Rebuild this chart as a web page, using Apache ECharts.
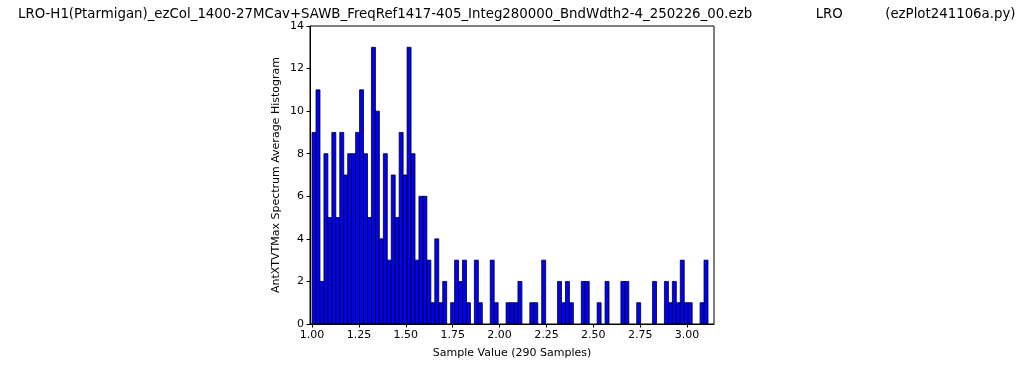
<!DOCTYPE html>
<html>
<head>
<meta charset="utf-8">
<script src="https://cdn.jsdelivr.net/npm/echarts@6/dist/echarts.min.js"></script>
<style>
  html, body { margin: 0; padding: 0; background: #fff; }
  #tb1 { width: 1024px; height: 370px; }
</style>
</head>
<body>
<div id="tb1"></div>
<script>
// histogram: 100 bins starting at binStart, each binWidth wide
var binStart = 1.0;
var binWidth = 0.02112;
var counts = [
  9, 11, 2, 8, 5, 9, 5, 9, 7, 8,
  8, 9, 11, 8, 5, 13, 10, 4, 8, 3,
  7, 5, 9, 7, 13, 8, 3, 6, 6, 3,
  1, 4, 1, 2, 0, 1, 3, 2, 3, 1,
  0, 3, 1, 0, 0, 3, 1, 0, 0, 1,
  1, 1, 2, 0, 0, 1, 1, 0, 3, 0,
  0, 0, 2, 1, 2, 1, 0, 0, 2, 2,
  0, 0, 1, 0, 2, 0, 0, 0, 2, 2,
  0, 0, 1, 0, 0, 0, 2, 0, 0, 2,
  1, 2, 1, 3, 1, 1, 0, 0, 1, 3
];
var xTicks = [1.0, 1.25, 1.5, 1.75, 2.0, 2.25, 2.5, 2.75, 3.0];
var titleText = 'LRO-H1(Ptarmigan)_ezCol_1400-27MCav+SAWB_FreqRef1417-405_Integ280000_BndWdth2-4_250226_00.ezb               LRO          (ezPlot241106a.py)';

var bins = [];
for (var i = 0; i < counts.length; i++) {
  bins.push([binStart + i * binWidth, binStart + (i + 1) * binWidth, counts[i]]);
}

var myChart1 = echarts.init(document.getElementById('tb1'), null, { renderer: 'canvas' });

var tb1option = {
  animation: false,
  backgroundColor: '#fff',
  textStyle: { fontFamily: 'DejaVu Sans' },
  title: {
    text: titleText,
    left: 13,
    top: 3,
    textStyle: { fontSize: 13.33, fontWeight: 'normal', color: '#000', fontFamily: 'DejaVu Sans' }
  },
  grid: {
    left: 310, right: 310, top: 26, bottom: 46,
    show: true, borderColor: '#000', borderWidth: 1
  },
  xAxis: {
    type: 'value',
    min: 0.989,
    max: 3.144,
    name: 'Sample Value (290 Samples)',
    nameLocation: 'middle',
    nameGap: 24,
    nameTextStyle: { fontSize: 11, color: '#000' },
    axisLine: { show: true, onZero: false, lineStyle: { color: '#000', width: 1 } },
    axisTick: { show: true, length: 3.5, lineStyle: { color: '#000' }, customValues: xTicks },
    axisLabel: {
      fontSize: 11, color: '#000', margin: 6,
      customValues: xTicks,
      formatter: function (v) { return v.toFixed(2); }
    },
    splitLine: { show: false }
  },
  yAxis: {
    type: 'value',
    min: 0,
    max: 14,
    interval: 2,
    name: 'AntXTVTMax Spectrum Average Histogram',
    nameLocation: 'middle',
    nameGap: 28,
    nameTextStyle: { fontSize: 11, color: '#000' },
    axisLine: { show: true, lineStyle: { color: '#000', width: 1 } },
    axisTick: { show: true, length: 3.5, lineStyle: { color: '#000' } },
    axisLabel: { fontSize: 11, color: '#000', margin: 6 },
    splitLine: { show: false }
  },
  series: [{
    type: 'custom',
    data: bins,
    encode: { x: [0, 1], y: 2 },
    renderItem: function (params, api) {
      var h = api.value(2);
      if (!h) return;
      var p0 = api.coord([api.value(0), h]);
      var p1 = api.coord([api.value(1), 0]);
      return {
        type: 'rect',
        shape: { x: p0[0], y: p0[1], width: p1[0] - p0[0], height: p1[1] - p0[1] },
        style: { fill: '#0000ff', stroke: '#000', lineWidth: 0.8 }
      };
    }
  }]
};

myChart1.setOption(tb1option);
</script>
</body>
</html>
